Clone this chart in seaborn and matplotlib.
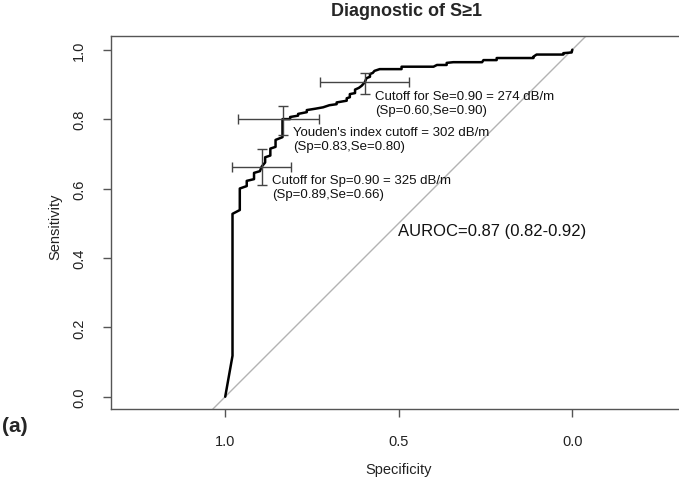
import numpy as np
import pandas as pd
import matplotlib
matplotlib.use("Agg")
import matplotlib.pyplot as plt
import seaborn as sns

# ROC curve (specificity, sensitivity)
specificity = [1.000, 0.979, 0.979, 0.958, 0.958, 0.938, 0.938, 0.917, 0.917,
               0.900, 0.895, 0.885, 0.885, 0.870, 0.870, 0.855, 0.855, 0.835,
               0.835, 0.813, 0.813, 0.790, 0.790, 0.765, 0.765, 0.740, 0.718,
               0.700, 0.679, 0.679, 0.650, 0.650, 0.641, 0.641, 0.626, 0.626,
               0.615, 0.607, 0.598, 0.593, 0.583, 0.583, 0.575, 0.570, 0.555,
               0.492, 0.492, 0.400, 0.390, 0.362, 0.362, 0.343, 0.260, 0.256,
               0.218, 0.218, 0.112, 0.112, 0.103, 0.026, 0.026, 0.002, 0.000]
sensitivity = [0.000, 0.118, 0.527, 0.538, 0.600, 0.607, 0.622, 0.627, 0.645,
               0.650, 0.663, 0.675, 0.690, 0.695, 0.715, 0.720, 0.740, 0.748,
               0.800, 0.800, 0.806, 0.810, 0.815, 0.820, 0.826, 0.830, 0.834,
               0.840, 0.843, 0.848, 0.853, 0.860, 0.863, 0.872, 0.875, 0.885,
               0.890, 0.896, 0.906, 0.918, 0.922, 0.930, 0.933, 0.939, 0.944,
               0.944, 0.951, 0.951, 0.956, 0.956, 0.962, 0.964, 0.964, 0.970,
               0.970, 0.976, 0.976, 0.980, 0.986, 0.986, 0.990, 0.992, 1.000]

# cutoff points with confidence intervals
cut_names = ["Se", "Youden", "Sp"]
cut_sp = [0.598, 0.833, 0.895]
cut_se = [0.906, 0.800, 0.663]
sp_low = [0.470, 0.703, 0.809]
sp_high = [0.725, 0.937, 0.979]
se_low = [0.872, 0.754, 0.610]
se_high = [0.933, 0.839, 0.714]

cut_labels = ["Cutoff for Se=0.90 = 274 dB/m\n(Sp=0.60,Se=0.90)",
              "Youden's index cutoff = 302 dB/m\n(Sp=0.83,Se=0.80)",
              "Cutoff for Sp=0.90 = 325 dB/m\n(Sp=0.89,Se=0.66)"]
auroc_label = "AUROC=0.87 (0.82-0.92)"

sns.set_style("white")
plt.rcParams['font.family'] = ['Liberation Sans', 'DejaVu Sans']

roc = pd.DataFrame({"Specificity": specificity, "Sensitivity": sensitivity})

fig = plt.figure(figsize=(6.79, 4.81), dpi=100)
ax = fig.add_axes([0.1635, 0.1476, 0.8476, 0.7755])

# chance diagonal
ax.axline((1, 0), (0, 1), color="#b3b3b3", lw=1.0, zorder=1)

sns.lineplot(data=roc, x="Specificity", y="Sensitivity", sort=False,
             estimator=None, color="black", lw=1.8, ax=ax, zorder=3)

sp_arr = np.array(cut_sp)
se_arr = np.array(cut_se)
xerr = [sp_high - sp_arr, sp_arr - np.array(sp_low)]
yerr = [se_arr - np.array(se_low), np.array(se_high) - se_arr]
ax.errorbar(cut_sp, cut_se, xerr=xerr, yerr=yerr, fmt="none",
            ecolor="#444444", elinewidth=1.0, capsize=3.5, capthick=1.0, zorder=4)

# labels next to the cutoffs
label_pos = [(0.569, 0.846), (0.805, 0.743), (0.866, 0.604)]
for (tx, ty), lab in zip(label_pos, cut_labels):
    ax.text(tx, ty, lab, ha="left", va="center", fontsize=9.5,
            color="#111111", linespacing=1.15)
ax.text(0.502, 0.478, auroc_label, ha="left", va="center", fontsize=12,
        color="#111111")

ax.set_xlim(1.329, -0.329)
ax.set_ylim(-0.0354, 1.0395)
ax.set_xticks([1.0, 0.5, 0.0])
ax.set_xticklabels(["1.0", "0.5", "0.0"])
ax.set_yticks([0.0, 0.2, 0.4, 0.6, 0.8, 1.0])
ax.set_yticklabels(["0.0", "0.2", "0.4", "0.6", "0.8", "1.0"], rotation=90, va="center")

for side in ["left", "bottom", "top"]:
    ax.spines[side].set_color("#555555")
    ax.spines[side].set_linewidth(1.0)
ax.spines["right"].set_visible(False)
ax.tick_params(axis="both", direction="out", length=6, width=1.0,
               color="#555555", labelsize=10.5, labelcolor="#222222", pad=12)
ax.tick_params(axis="x", bottom=True)
ax.tick_params(axis="y", left=True)

ax.set_xlabel("Specificity", fontsize=10.5, color="#222222")
ax.set_ylabel("Sensitivity", fontsize=10.5, color="#222222")
ax.xaxis.set_label_coords(0.5, -0.142)
ax.yaxis.set_label_coords(-0.085, 0.49)

ax.set_title("Diagnostic of S≥1", fontsize=13, fontweight="bold",
             x=0.5126, y=1.0335, va="baseline")

fig.text(0.003, 1 - 427 / 481, "(a)", fontsize=15, fontweight="bold",
         ha="left", va="center")

fig.savefig("out.png", dpi=100)
